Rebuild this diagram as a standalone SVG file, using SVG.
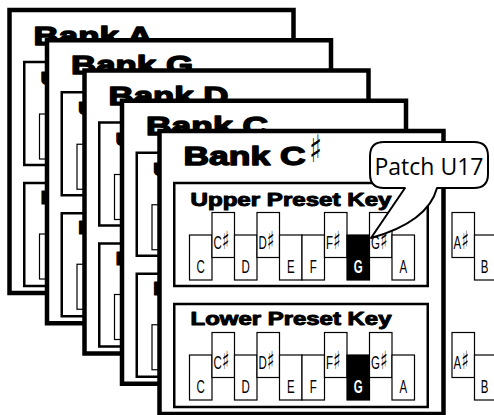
<svg xmlns="http://www.w3.org/2000/svg" xmlns:xlink="http://www.w3.org/1999/xlink" width="494" height="415" viewBox="0 0 494 415">
<style>
.card{fill:#fff;stroke:#000;stroke-width:4.5}
.box{fill:none;stroke:#000;stroke-width:2.5}
.key{fill:#fff;stroke:#000;stroke-width:1.2}
.keyd{fill:#000;stroke:#000;stroke-width:1.2}
.bt{font-family:"Liberation Sans",Arial,sans-serif;font-weight:bold;font-size:26px;fill:#000;stroke:#000;stroke-width:1.4;stroke-linejoin:round}
.pt{font-family:"Liberation Sans",Arial,sans-serif;font-weight:bold;font-size:18px;fill:#000;stroke:#000;stroke-width:1;stroke-linejoin:round}
.kl{font-family:"Liberation Sans","DejaVu Sans",sans-serif;font-size:18.5px;fill:#000}
.klw{font-family:"Liberation Sans","DejaVu Sans",sans-serif;font-size:18.5px;font-weight:bold;fill:#fff}
.s{font-family:"DejaVu Sans",sans-serif;font-size:25px}
.sh{font-family:"DejaVu Sans",sans-serif;font-size:38px;fill:#000}
.call{font-family:"Open Sans","Noto Sans",sans-serif;font-size:23.5px;fill:#000}
.bubble{fill:#fff;stroke:#000;stroke-width:2;stroke-linejoin:round}
</style>
<defs>
<g id="kb">
<rect class="key" x="30" y="22.5" width="22.5" height="45"/>
<rect class="key" x="52.5" y="0" width="22.5" height="45"/>
<rect class="key" x="75" y="22.5" width="22.5" height="45"/>
<rect class="key" x="97.5" y="0" width="22.5" height="45"/>
<rect class="key" x="120" y="22.5" width="22.5" height="45"/>
<rect class="key" x="142.5" y="22.5" width="22.5" height="45"/>
<rect class="key" x="165" y="0" width="22.5" height="45"/>
<rect class="keyd" x="187.5" y="22.5" width="22.5" height="45"/>
<rect class="key" x="210" y="0" width="22.5" height="45"/>
<rect class="key" x="232.5" y="22.5" width="22.5" height="45"/>
<text class="kl" text-anchor="middle" transform="translate(41.25,60) scale(0.62,1)">C</text>
<text class="kl" transform="translate(54,36) scale(0.62,1)">C<tspan class="s">♯</tspan></text>
<text class="kl" text-anchor="middle" transform="translate(86.25,60) scale(0.62,1)">D</text>
<text class="kl" transform="translate(99,36) scale(0.62,1)">D<tspan class="s">♯</tspan></text>
<text class="kl" text-anchor="middle" transform="translate(131.25,60) scale(0.62,1)">E</text>
<text class="kl" text-anchor="middle" transform="translate(153.75,60) scale(0.62,1)">F</text>
<text class="kl" transform="translate(166.5,36) scale(0.62,1)">F<tspan class="s">♯</tspan></text>
<text class="klw" text-anchor="middle" transform="translate(198.75,60) scale(0.62,1)">G</text>
<text class="kl" transform="translate(211.5,36) scale(0.62,1)">G<tspan class="s">♯</tspan></text>
<text class="kl" text-anchor="middle" transform="translate(243.75,60) scale(0.62,1)">A</text>
</g>
<g id="ext">
<rect class="key" x="0" y="0" width="22.5" height="45"/>
<rect class="key" x="22.5" y="22.5" width="22.5" height="45"/>
<text class="kl" transform="translate(1.5,36) scale(0.62,1)">A<tspan class="s">♯</tspan></text>
<text class="kl" text-anchor="middle" transform="translate(32.5,60) scale(0.62,1)">B</text>
</g>
<g id="card">
<rect class="card" x="0" y="0" width="284" height="283"/>
<rect class="box" x="14.75" y="52" width="253.5" height="103"/>
<rect class="box" x="14.75" y="173" width="253.5" height="103"/>
<text class="pt" x="31" y="75" textLength="201" lengthAdjust="spacingAndGlyphs">Upper Preset Key</text>
<text class="pt" x="31" y="194" textLength="201" lengthAdjust="spacingAndGlyphs">Lower Preset Key</text>
<use xlink:href="#kb" href="#kb" transform="translate(0,81.5)"/>
<use xlink:href="#kb" href="#kb" transform="translate(0,201.5)"/>
</g>
</defs>
<g id="bank-a" transform="translate(9.5,10)">
<use xlink:href="#card" href="#card"/>
<text class="bt" x="24" y="35" textLength="119" lengthAdjust="spacingAndGlyphs">Bank A</text>
</g>
<g id="bank-g" transform="translate(47,40.25)">
<use xlink:href="#card" href="#card"/>
<text class="bt" x="24" y="34" textLength="122" lengthAdjust="spacingAndGlyphs">Bank G</text>
</g>
<g id="bank-d" transform="translate(84.5,70.5)">
<use xlink:href="#card" href="#card"/>
<text class="bt" x="24" y="34" textLength="120" lengthAdjust="spacingAndGlyphs">Bank D</text>
</g>
<g id="bank-c" transform="translate(122,100.75)">
<use xlink:href="#card" href="#card"/>
<text class="bt" x="24" y="34" textLength="122" lengthAdjust="spacingAndGlyphs">Bank C</text>
</g>
<g id="bank-c-sharp" transform="translate(159.5,131)">
<use xlink:href="#card" href="#card"/>
<text class="bt" x="24" y="33.5" textLength="122" lengthAdjust="spacingAndGlyphs">Bank C</text>
<text class="sh" transform="translate(149.5,31) scale(0.7,1)">♯</text>
</g>
<g id="ext-keys">
<use xlink:href="#ext" href="#ext" transform="translate(452,212.5)"/>
<use xlink:href="#ext" href="#ext" transform="translate(452,332.5)"/>
</g>
<g id="connectors"/>
<g id="callout-patch-u17">
<path class="bubble" d="M384,142 H474 Q488,142 488,156 V174 Q488,188 474,188 H437 Q428,222 371,238 L405,188 H384 Q370,188 370,174 V156 Q370,142 384,142 Z"/>
<text class="call" x="429" y="175" text-anchor="middle" textLength="109" lengthAdjust="spacingAndGlyphs">Patch U17</text>
</g>
</svg>
